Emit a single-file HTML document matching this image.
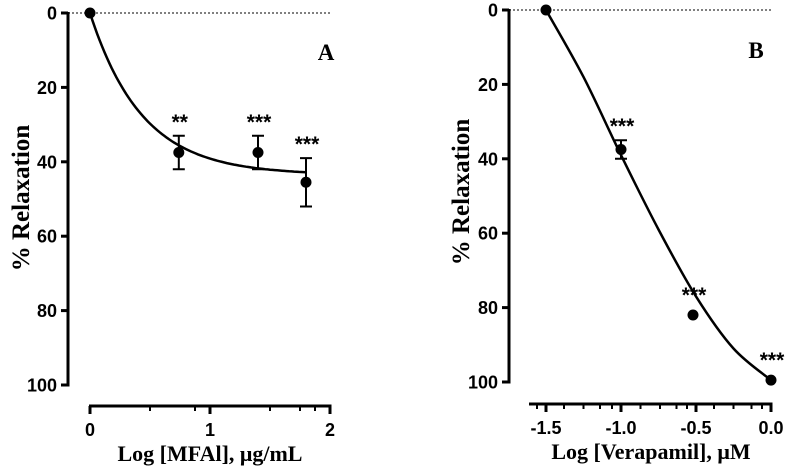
<!DOCTYPE html>
<html><head><meta charset="utf-8"><style>
html,body{margin:0;padding:0;background:#fff;}
svg{display:block;}
</style></head><body>
<svg id="fig" width="787" height="469" viewBox="0 0 787 469" xmlns="http://www.w3.org/2000/svg"></svg>
<script>
// Panel A data
const aX = [0, 0.74, 1.4, 1.8];
const aY = [0, 37.5, 37.5, 45.5];
const aErrLo = [0, 33, 33, 39];
const aErrHi = [0, 42, 42, 52];
const aStars = ["", "**", "***", "***"];
const aXTicks = [0, 1, 2];
const aXMinor = [0.5, 0.875, 1.5, 1.75, 1.875];
const aYTicks = [0, 20, 40, 60, 80, 100];
const aFitTop = 43.5, aFitK = 2.3;
// Panel B data
const bX = [-1.5, -1.0, -0.52, 0.0];
const bY = [0, 37.5, 82, 99.5];
const bErrLo = [0, 35, 82, 99.5];
const bErrHi = [0, 40, 82, 99.5];
const bStars = ["", "***", "***", "***"];
const bXTicks = [-1.5, -1.0, -0.5, 0.0];
const bXTickLabels = ["-1.5", "-1.0", "-0.5", "0.0"];
const bXMinor = [-1.56, -1.38, -1.25, -1.14, -1.06, -0.87, -0.74, -0.63, -0.56, -0.38, -0.25, -0.13, -0.06];
const bYTicks = [0, 20, 40, 60, 80, 100];
const bCurveX = [-1.5, -1.25, -1, -0.75, -0.5, -0.25, 0];
const bCurveY = [0, 18, 39, 59, 77, 91, 99.5];

const svg = document.getElementById('fig');
const NS = 'http://www.w3.org/2000/svg';
const SANS = '"Liberation Sans", Arial, sans-serif';
const SERIF = '"Liberation Serif", serif';
function mk(tag, attrs, parent) {
  const e = document.createElementNS(NS, tag);
  for (const k in attrs) e.setAttribute(k, attrs[k]);
  (parent || svg).appendChild(e);
  return e;
}
function txt(attrs, family, size, parent) {
  attrs['font-family'] = family;
  attrs['font-size'] = size;
  attrs['font-weight'] = 'bold';
  attrs['fill'] = '#000';
  return mk('text', attrs, parent);
}

function panel(cfg) {
  const g = mk('g', {});
  
  
  const sx = v => cfg.x0 + (v - cfg.xmin) / (cfg.xmax - cfg.xmin) * (cfg.x1 - cfg.x0);
  const sy = v => cfg.y0 + v / 100 * (cfg.y1 - cfg.y0);
  const dl = mk('line', {x1: cfg.yAxisX, x2: sx(cfg.xmax), y1: sy(0), y2: sy(0), stroke: '#000', 'stroke-width': 1, 'stroke-dasharray': '2,2'}, g);
  
  
  const ya = mk('line', {x1: cfg.yAxisX, x2: cfg.yAxisX, y1: sy(0) - 1, y2: sy(100) + 1.5, stroke: '#000', 'stroke-width': 3}, g);
  
  
  cfg.yTicks.forEach(v => {
    mk('line', {x1: cfg.yAxisX - 7, x2: cfg.yAxisX, y1: sy(v), y2: sy(v), stroke: '#000', 'stroke-width': 3}, g);
    const t = txt({x: cfg.yAxisX - 11, y: sy(v) + 6.5, 'text-anchor': 'end'}, SANS, 18, g);
    t.textContent = v;
    
    
  });
  const xa = mk('line', {x1: cfg.xAxisStart, x2: sx(cfg.xmax) + 1.5, y1: cfg.xAxisY, y2: cfg.xAxisY, stroke: '#000', 'stroke-width': 3}, g);
  
  
  cfg.xTicks.forEach((v, i) => {
    mk('line', {x1: sx(v), x2: sx(v), y1: cfg.xAxisY, y2: cfg.xAxisY + 8, stroke: '#000', 'stroke-width': 3}, g);
    const t = txt({x: sx(v), y: cfg.xAxisY + 30, 'text-anchor': 'middle'}, SANS, 18, g);
    t.textContent = cfg.xTickLabels ? cfg.xTickLabels[i] : v;
    
    
  });
  cfg.xMinor.forEach(v => {
    mk('line', {x1: sx(v), x2: sx(v), y1: cfg.xAxisY, y2: cfg.xAxisY + 5, stroke: '#000', 'stroke-width': 2}, g);
  });
  const xt = txt({x: cfg.xTitleX, y: cfg.xTitleY, 'text-anchor': 'middle'}, SERIF, 22, g);
  xt.textContent = cfg.xTitle;
  
  
  const yt = txt({x: 0, y: 0, 'text-anchor': 'middle', transform: `translate(${cfg.yTitleX},${cfg.yTitleY}) rotate(-90)`}, SERIF, 25, g);
  yt.textContent = '%  Relaxation';
  
  
  const pl = txt({x: cfg.labelX, y: cfg.labelY, 'text-anchor': 'middle'}, SERIF, 23, g);
  pl.textContent = cfg.label;
  
  
  const cp = mk('path', {d: cfg.curve(sx, sy), fill: 'none', stroke: '#000', 'stroke-width': 2.5}, g);
  
  
  cfg.px.forEach((v, i) => {
    const x = sx(v);
    if (cfg.hi[i] !== cfg.lo[i]) {
      const eb = mk('path', {d: `M${x},${sy(cfg.lo[i])}V${sy(cfg.hi[i])}M${x - 6},${sy(cfg.lo[i])}H${x + 6}M${x - 6},${sy(cfg.hi[i])}H${x + 6}`, stroke: '#000', 'stroke-width': 2, fill: 'none'}, g);
      
      
    }
    const c = mk('circle', {cx: x, cy: sy(cfg.py[i]), r: 5.5, fill: '#000'}, g);
    
    
    if (cfg.stars[i]) {
      const top = Math.min(sy(cfg.lo[i]), sy(cfg.py[i]) - 6);
      const s = txt({x: x + 1, y: top - 7, 'text-anchor': 'middle'}, SANS, 21, g);
      s.textContent = cfg.stars[i];
      
      
    }
  });
}

panel({
  name: 'panel-a', xmin: 0, xmax: 2, x0: 90, x1: 330, y0: 13, y1: 385,
  yAxisX: 68, xAxisY: 406, xAxisStart: 89,
  yTicks: aYTicks, xTicks: aXTicks, xMinor: aXMinor,
  xTitle: 'Log [MFAl], \u03bcg/mL', xTitleX: 210, xTitleY: 461,
  yTitleX: 29, yTitleY: 198, label: 'A', labelX: 326, labelY: 60,
  px: aX, py: aY, lo: aErrLo, hi: aErrHi, stars: aStars,
  curve: (sx, sy) => {
    let d = '';
    for (let i = 0; i <= 90; i++) {
      const v = aX[aX.length - 1] * i / 90;
      const y = aFitTop * (1 - Math.exp(-aFitK * v));
      d += (i ? 'L' : 'M') + sx(v).toFixed(1) + ',' + sy(y).toFixed(1);
    }
    return d;
  }
});

panel({
  name: 'panel-b', xmin: -1.5, xmax: 0, x0: 546, x1: 771, y0: 10, y1: 382,
  yAxisX: 509, xAxisY: 404, xAxisStart: 529,
  yTicks: bYTicks, xTicks: bXTicks, xTickLabels: bXTickLabels, xMinor: bXMinor,
  xTitle: 'Log [Verapamil], \u03bcM', xTitleX: 651, xTitleY: 459,
  yTitleX: 469, yTitleY: 192, label: 'B', labelX: 756, labelY: 58,
  px: bX, py: bY, lo: bErrLo, hi: bErrHi, stars: bStars,
  curve: (sx, sy) => {
    const P = bCurveX.map((v, i) => [sx(v), sy(bCurveY[i])]);
    let d = 'M' + P[0][0] + ',' + P[0][1];
    for (let i = 0; i < P.length - 1; i++) {
      const p0 = P[i - 1] || P[i], p1 = P[i], p2 = P[i + 1], p3 = P[i + 2] || P[i + 1];
      const c1 = [p1[0] + (p2[0] - p0[0]) / 6, p1[1] + (p2[1] - p0[1]) / 6];
      const c2 = [p2[0] - (p3[0] - p1[0]) / 6, p2[1] - (p3[1] - p1[1]) / 6];
      d += `C${c1[0]},${c1[1]} ${c2[0]},${c2[1]} ${p2[0]},${p2[1]}`;
    }
    return d;
  }
});
</script>
</body></html>
